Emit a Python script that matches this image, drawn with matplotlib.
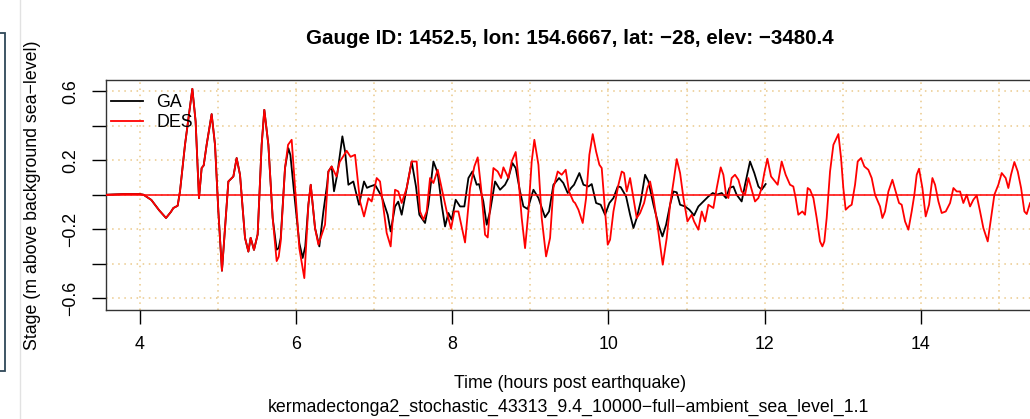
"""
Gauge time series: GA vs DES stage at gauge 1452.5 (Kermadec-Tonga scenario).
Values read off the reference plot at peaks / troughs.
"""
import matplotlib
matplotlib.use("Agg")
import matplotlib.pyplot as plt
from matplotlib.patches import Rectangle
from matplotlib.lines import Line2D

plt.rcParams.update({"font.family": ["Liberation Sans", "DejaVu Sans"], "font.size": 12.8})

# shared start of both records (identical until ~5.6 h)
lead_t = [3.58, 3.80, 4.00, 4.05, 4.15, 4.25, 4.338, 4.40, 4.432, 4.487, 4.517, 4.581,
          4.675, 4.717, 4.760, 4.794, 4.82, 4.858, 4.922, 4.965, 5.008, 5.054, 5.093,
          5.136, 5.20, 5.242, 5.285, 5.349, 5.392, 5.421, 5.464, 5.511, 5.562, 5.596, 5.648, 5.703]
lead_v = [0.0, 0.004, 0.004, 0.0, -0.03, -0.09, -0.135, -0.10, -0.077, -0.064, 0.02, 0.29,
          0.615, 0.425, -0.02, 0.155, 0.17, 0.29, 0.468, 0.29, -0.097, -0.441, -0.193,
          0.077, 0.106, 0.213, 0.116, -0.25, -0.33, -0.25, -0.32, -0.23, 0.29, 0.493, 0.29, -0.135]

des_t = [5.754, 5.78, 5.806, 5.861, 5.90, 5.946, 6.01, 6.044, 6.108, 6.16, 6.19, 6.245, 6.288,
         6.373, 6.416, 6.458, 6.52, 6.56, 6.65, 6.70, 6.757, 6.821, 6.872, 6.928, 6.97, 7.034,
         7.077, 7.162, 7.213, 7.269, 7.311, 7.354, 7.418, 7.482, 7.546,
         7.589, 7.632, 7.674, 7.717, 7.76, 7.815, 7.866, 7.93, 7.986, 8.028, 8.08, 8.165, 8.229,
         8.284, 8.327, 8.37, 8.421, 8.455, 8.498, 8.528, 8.583, 8.626, 8.656, 8.72, 8.762, 8.813,
         8.848, 8.89, 8.933, 8.976, 9.018, 9.052, 9.104, 9.146, 9.202, 9.253, 9.296, 9.351, 9.402,
         9.453, 9.496, 9.551,
         9.573, 9.616, 9.671, 9.714, 9.756, 9.799, 9.842, 9.884, 9.914, 9.957, 9.991, 10.021,
         10.064, 10.128, 10.17, 10.20, 10.234, 10.277, 10.32, 10.362, 10.405, 10.456, 10.499,
         10.533, 10.576, 10.627, 10.661, 10.695, 10.746, 10.789, 10.84, 10.874, 10.917, 10.96,
         11.011, 11.066, 11.096, 11.151, 11.194, 11.237, 11.279, 11.343, 11.386, 11.437, 11.471,
         11.505,
         11.535, 11.577, 11.62, 11.663, 11.705, 11.748, 11.791, 11.833, 11.876, 11.919, 11.961,
         11.995, 12.034, 12.081, 12.132, 12.166, 12.217, 12.268, 12.324, 12.366, 12.396, 12.43,
         12.482, 12.516, 12.55, 12.58, 12.623, 12.665, 12.708, 12.738, 12.763, 12.793, 12.836,
         12.879, 12.943, 12.977, 13.006, 13.036, 13.079, 13.113, 13.156, 13.19, 13.233, 13.275,
         13.326, 13.369, 13.412, 13.476,
         13.506, 13.54, 13.583, 13.634, 13.676, 13.719, 13.753, 13.796, 13.839, 13.881, 13.915,
         13.945, 13.975, 14.018, 14.06, 14.103, 14.146, 14.18, 14.223, 14.265, 14.317, 14.372,
         14.415, 14.457, 14.5, 14.542, 14.585, 14.628, 14.67, 14.713, 14.756, 14.798, 14.854,
         14.897, 14.939, 14.99, 15.033, 15.084, 15.118, 15.152, 15.195, 15.238, 15.281, 15.323,
         15.353, 15.396, 15.45]
des_v = [-0.385, -0.36, -0.27, 0.155, 0.29, 0.319, -0.097, -0.31, -0.484, -0.058, 0.058, -0.193, -0.29,
         -0.174, 0.135, 0.164, 0.106, 0.19, 0.255, 0.22, 0.232, -0.039, -0.126, -0.02, -0.039, 0.097,
         0.077, -0.222, -0.30, 0.029, 0.019, -0.048, 0.039, 0.193, 0.193,
         -0.097, -0.145, -0.097, 0.097, 0.068, 0.145, 0.039, -0.097, -0.197, -0.097, -0.097, -0.277, 0.039,
         0.164, 0.217, 0.039, -0.232, -0.248, 0.0, 0.155, 0.135, 0.097, 0.159, 0.097, 0.193, 0.248,
         0.097, -0.135, -0.31, -0.097, 0.193, 0.319, 0.174, -0.135, -0.358, -0.251, 0.039, 0.135, 0.116,
         0.145, 0.019, -0.039,
         -0.048, -0.087, -0.164, -0.019, 0.232, 0.352, 0.251, 0.174, 0.155, -0.097, -0.29, -0.261,
         -0.097, 0.058, 0.135, 0.126, 0.019, 0.097, -0.019, -0.135, -0.106, -0.048, 0.039,
         0.077, -0.019, -0.174, -0.29, -0.406, -0.251, -0.058, 0.097, 0.207, 0.126, -0.019,
         -0.155, -0.116, -0.155, -0.203, -0.097, -0.155, -0.058, -0.077, 0.039, 0.159, 0.116,
         0.0,
         -0.019, 0.097, 0.116, 0.087, 0.019, 0.0, 0.097, 0.029, -0.039, -0.019, 0.039,
         0.126, 0.209, 0.106, 0.077, 0.058, 0.193, 0.116, 0.058, 0.048, -0.019, -0.116,
         -0.097, -0.116, 0.039, 0.029, -0.019, -0.135, -0.271, -0.30, -0.271, -0.135, 0.135,
         0.29, 0.352, 0.213, 0.039, -0.087, -0.068, -0.058, 0.058, 0.193, 0.213, 0.164,
         0.145, 0.097, 0.0, -0.068,
         -0.135, -0.097, 0.019, 0.087, 0.019, -0.048, -0.058, -0.155, -0.203, -0.097, 0.0,
         0.116, 0.151, 0.039, -0.126, -0.058, 0.097, 0.058, -0.039, -0.106, -0.097, -0.048,
         0.039, 0.019, 0.019, -0.048, 0.0, -0.068, -0.029, -0.004, -0.097, -0.193, -0.271,
         -0.135, 0.0, 0.058, 0.126, 0.097, 0.039, 0.116, 0.19, 0.135, 0.039, -0.097,
         -0.112, -0.048, -0.02]

ga_t = [5.754, 5.78, 5.806, 5.861, 5.904, 5.93, 5.98, 6.044, 6.087, 6.12, 6.16, 6.19, 6.245, 6.30,
        6.352, 6.40, 6.416, 6.458, 6.488, 6.53, 6.595, 6.63, 6.672, 6.735, 6.808, 6.872, 6.91, 6.949,
        7.013, 7.098, 7.175, 7.213, 7.269, 7.31, 7.354, 7.418, 7.482, 7.537, 7.58,
        7.653, 7.696, 7.76, 7.815, 7.866, 7.909, 7.952, 7.994, 8.045, 8.101, 8.156, 8.208, 8.259,
        8.314, 8.344, 8.399, 8.442, 8.485, 8.549, 8.613, 8.677, 8.72, 8.771, 8.813, 8.869, 8.912,
        8.967, 9.04, 9.104, 9.189, 9.24, 9.296, 9.368, 9.423, 9.479, 9.521, 9.56,
        9.628, 9.68, 9.744, 9.786, 9.842, 9.901, 9.957, 10.012, 10.064, 10.119, 10.157, 10.226,
        10.277, 10.32, 10.362, 10.413, 10.469, 10.512, 10.576, 10.64, 10.691, 10.738, 10.789,
        10.831, 10.874, 10.917, 10.981, 11.036, 11.096, 11.151, 11.215, 11.279, 11.335, 11.386,
        11.45, 11.505, 11.548, 11.599, 11.641, 11.705, 11.748, 11.812, 11.867, 11.919, 11.961, 12.012]
ga_v = [-0.319, -0.31, -0.25, 0.155, 0.27, 0.23, 0.0, -0.28, -0.367, -0.30, -0.058, 0.058, -0.193, -0.30,
        -0.097, 0.06, 0.135, 0.164, 0.02, 0.12, 0.339, 0.25, 0.058, 0.077, -0.058, 0.077, 0.04, 0.048,
        0.058, -0.01, -0.116, -0.213, -0.068, -0.04, -0.116, 0.039, 0.193, 0.048, -0.116,
        -0.164, -0.058, 0.193, 0.126, -0.058, -0.184, -0.106, -0.145, -0.029, -0.068, -0.068, 0.097, 0.135,
        0.058, 0.062, -0.039, -0.174, -0.097, 0.077, 0.029, 0.058, 0.097, 0.184, 0.155, 0.019, -0.068,
        -0.083, 0.029, -0.019, -0.131, -0.097, 0.058, 0.097, 0.068, 0.01, 0.039, 0.058,
        0.126, 0.058, 0.048, 0.062, -0.048, -0.058, -0.116, -0.048, -0.019, 0.048, 0.044, -0.01,
        -0.116, -0.193, -0.135, -0.039, 0.116, 0.077, -0.058, -0.174, -0.242, -0.174, -0.058,
        0.019, 0.014, -0.058, -0.068, -0.087, -0.12, -0.068, -0.039, -0.01, 0.01, 0.0,
        0.01, -0.019, 0.039, 0.048, 0.0, -0.039, 0.058, 0.193, 0.126, 0.048, 0.029, 0.062]

x_ticks = [4, 6, 8, 10, 12, 14]
y_ticks = [-0.6, -0.4, -0.2, 0.0, 0.2, 0.4, 0.6]
y_labels = ["\u22120.6", "", "\u22120.2", "", "0.2", "", "0.6"]

W, H = 1030, 419
fig = plt.figure(figsize=(W / 100, H / 100), dpi=100)
ax = fig.add_axes([106 / W, 1 - 310 / H, (1045 - 106) / W, 230 / H])

# faint dotted grid, every hour / every 0.2 m
for g in range(4, 16):
    ax.axvline(g, color="#EBC98A", ls=(0, (1, 3)), lw=1.1, zorder=0)
for g in y_ticks:
    ax.axhline(g, color="#EBC98A", ls=(0, (1, 3)), lw=1.1, zorder=0)

ax.plot(lead_t + ga_t, lead_v + ga_v, color="black", lw=1.3, label="GA", zorder=2)
ax.plot(lead_t + des_t, lead_v + des_v, color="#FF0000", lw=1.3, label="DES", zorder=3)
ax.axhline(0, color="#FF0000", lw=1.1, zorder=3)

ax.set_xlim(3.570, 15.587); ax.set_ylim(-0.669, 0.666)
ax.set_xticks(x_ticks); ax.set_xticklabels([str(v) for v in x_ticks])
ax.set_yticks(y_ticks); ax.set_yticklabels(y_labels, rotation=90, va="center")
ax.tick_params(axis="x", length=10, pad=9, width=1)
ax.tick_params(axis="y", length=10, pad=9, width=1)
for s in ax.spines.values():
    s.set_color("#333333"); s.set_linewidth(1)
ax.spines["right"].set_visible(False)

ax.legend(loc="upper left", bbox_to_anchor=(-0.005, 0.982), frameon=False, handlelength=1.8,
          handletextpad=0.75, labelspacing=0.2, borderaxespad=0.15, fontsize=12.8)

fig.text(570 / W, 1 - 38 / H, "Gauge ID: 1452.5, lon: 154.6667, lat: \u221228, elev: \u22123480.4",
         ha="center", va="center", fontsize=14.8, fontweight="bold")
fig.text(570 / W, 1 - 383 / H, "Time (hours post earthquake)", ha="center", va="center")
fig.text(568 / W, 1 - 407 / H,
         "kermadectonga2_stochastic_43313_9.4_10000\u2212full\u2212ambient_sea_level_1.1",
         ha="center", va="center")
fig.text(33 / W, 1 - 195 / H, "Stage (m above background sea\u2212level)", rotation=90,
         ha="center", va="center")

# bits of the neighbouring panel on the left edge
fig.add_artist(Rectangle((-10 / W, 1 - 371 / H), 15 / W, 338 / H, transform=fig.transFigure,
                         fill=False, edgecolor="#2F4858", lw=1.3))
fig.add_artist(Line2D([19.5 / W, 19.5 / W], [0, 1], transform=fig.transFigure, color="#E2E2E2", lw=1))

fig.savefig("out.png", dpi=100)
